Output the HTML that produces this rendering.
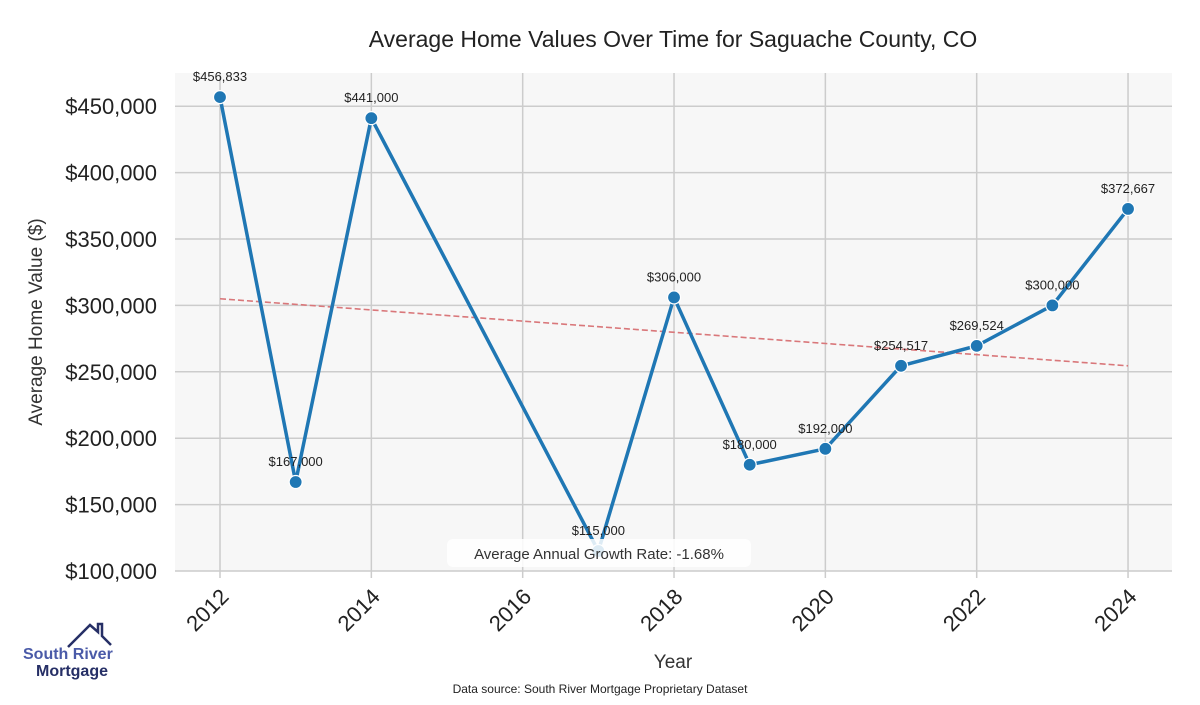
<!DOCTYPE html>
<html><head><meta charset="utf-8">
<style>
body{margin:0;background:#fff;width:1200px;height:700px;overflow:hidden;font-family:"Liberation Sans",sans-serif;}
</style></head>
<body>
<svg id="chart" width="1200" height="700" xmlns="http://www.w3.org/2000/svg">
<rect x="175" y="73" width="997" height="498" fill="#f7f7f7"/>
<g id="grid"></g>
<g id="trend"></g>
<g id="series"></g>
<g id="labels"></g>
<g id="ticks"></g>
<text x="673" y="47" text-anchor="middle" font-size="23" fill="#222">Average Home Values Over Time for Saguache County, CO</text>
<text transform="translate(42,322) rotate(-90)" text-anchor="middle" font-size="19" fill="#333">Average Home Value ($)</text>
<text x="673" y="668" text-anchor="middle" font-size="19" fill="#333">Year</text>
<text x="600" y="693" text-anchor="middle" font-size="12" fill="#222">Data source: South River Mortgage Proprietary Dataset</text>
<g>
<rect x="447" y="539" width="304" height="28" rx="6" fill="#fff" opacity="0.85"/>
<text x="599" y="559" text-anchor="middle" font-size="15" fill="#333">Average Annual Growth Rate: -1.68%</text>
</g>
<g>
<polyline points="68,647 90,625 98,632 98,624 102,624 102,636 111,645" fill="none" stroke="#262f66" stroke-width="2.5"/>
<text x="23" y="659" font-size="16" font-weight="bold" fill="#4a5aa8">South River</text>
<text x="36" y="676" font-size="16" font-weight="bold" fill="#262f66">Mortgage</text>
</g>
</svg>
<script>
const years=[2012,2013,2014,2017,2018,2019,2020,2021,2022,2023,2024];
const values=[456833,167000,441000,115000,306000,180000,192000,254517,269524,300000,372667];
const valueLabels=["$456,833","$167,000","$441,000","$115,000","$306,000","$180,000","$192,000","$254,517","$269,524","$300,000","$372,667"];
const yTicks=[100000,150000,200000,250000,300000,350000,400000,450000];
const xTicks=[2012,2014,2016,2018,2020,2022,2024];
const trendStart=305000, trendEnd=254500;
const NS="http://www.w3.org/2000/svg";
const X=y=>220+(y-2012)*75.67;
const Y=v=>571-(v-100000)/50000*66.4;
function mk(tag,attrs,parent,txt){const e=document.createElementNS(NS,tag);for(const k in attrs)e.setAttribute(k,attrs[k]);if(txt!==undefined)e.textContent=txt;document.getElementById(parent).appendChild(e);return e;}
yTicks.forEach(t=>{
 const l=mk('line',{x1:175,x2:1172,y1:Y(t),y2:Y(t),stroke:'#cccccc','stroke-width':1.5},'grid');
 
 
 const s=mk('text',{x:157,y:Y(t)+8,'text-anchor':'end','font-size':22,fill:'#222'},'ticks','$'+t.toLocaleString('en-US'));
 
 
});
xTicks.forEach(t=>{
 const l=mk('line',{x1:X(t),x2:X(t),y1:73,y2:578,stroke:'#cccccc','stroke-width':1.5},'grid');
 
 
 const s=mk('text',{transform:`translate(${X(t)+10},${598}) rotate(-45)`,'text-anchor':'end','font-size':22,fill:'#222'},'ticks',String(t));
 
 
});
const tr=mk('line',{x1:X(2012),y1:Y(trendStart),x2:X(2024),y2:Y(trendEnd),stroke:'#d9777a','stroke-width':1.6,'stroke-dasharray':'6,3'},'trend');


const pl=mk('polyline',{points:years.map((y,i)=>X(y)+','+Y(values[i])).join(' '),fill:'none',stroke:'#1f77b4','stroke-width':3.5},'series');


years.forEach((y,i)=>{
 const c=mk('circle',{cx:X(y),cy:Y(values[i]),r:6.5,fill:'#1f77b4',stroke:'#fff','stroke-width':1.2},'series');
 
 
 const t=mk('text',{x:X(y),y:Y(values[i])-16,'text-anchor':'middle','font-size':13,fill:'#222'},'labels',valueLabels[i]);
 
 
});
</script>
</body></html>
